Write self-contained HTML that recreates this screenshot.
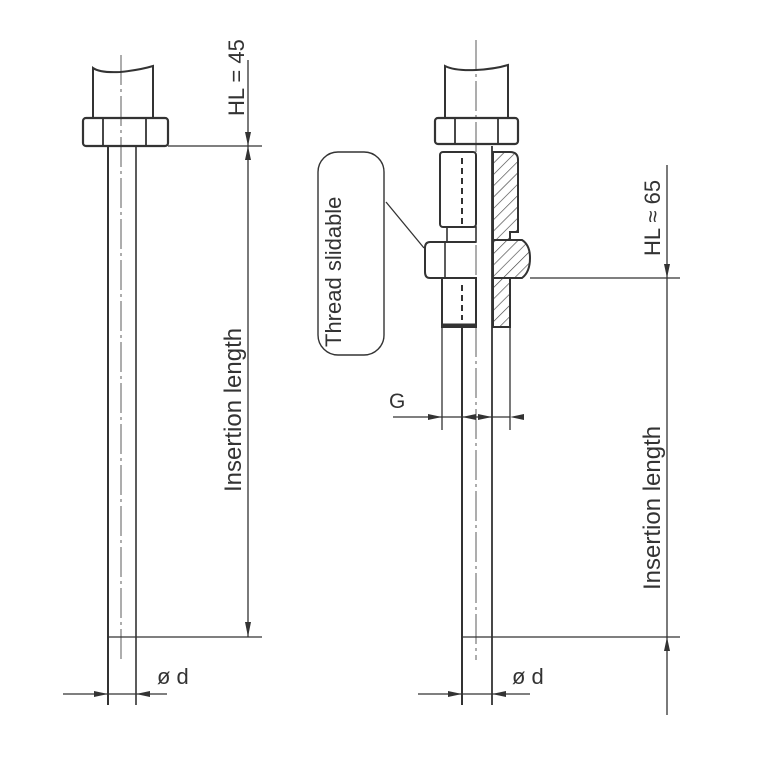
<!DOCTYPE html>
<html><head><meta charset="utf-8"><style>
html,body{margin:0;padding:0;background:#fff;}
svg{display:block;}
text{font-family:"Liberation Sans",sans-serif;fill:#333;}
</style></head><body>
<svg width="767" height="767" viewBox="0 0 767 767" xmlns="http://www.w3.org/2000/svg">
<defs>
<pattern id="h" width="8" height="8" patternUnits="userSpaceOnUse" patternTransform="rotate(45)">
<line x1="0" y1="0" x2="0" y2="8" stroke="#444" stroke-width="1.3"/>
</pattern>
</defs>
<g stroke="#333" fill="none" stroke-width="1.3">
<path d="M93 118 V68 Q100 73 120 72 Q140 70 153 66 V118" stroke-width="2"/>
<rect x="83" y="118" width="85" height="28" rx="3" stroke-width="2.2"/>
<line x1="103" y1="118" x2="103" y2="146" stroke-width="1.8"/>
<line x1="146" y1="118" x2="146" y2="146" stroke-width="1.8"/>
<line x1="108" y1="146" x2="108" y2="705" stroke-width="2"/>
<line x1="136" y1="146" x2="136" y2="705" stroke-width="1.6"/>
<line x1="121" y1="55" x2="121" y2="660" stroke-width="0.8" stroke-dasharray="30 4 3 4"/>
<line x1="168" y1="146" x2="262" y2="146"/>
<line x1="108" y1="637" x2="262" y2="637"/>
<line x1="248" y1="60" x2="248" y2="637"/>
<line x1="63" y1="694" x2="167" y2="694"/>
<path d="M445 118 V66 Q455 71 476 70 Q495 69 508 65 V118" stroke-width="2"/>
<rect x="435" y="118" width="83" height="26" rx="3" stroke-width="2.2"/>
<line x1="455" y1="118" x2="455" y2="144" stroke-width="1.8"/>
<line x1="498" y1="118" x2="498" y2="144" stroke-width="1.8"/>
<rect x="440" y="152" width="36" height="75" rx="3" stroke-width="2"/>
<line x1="462" y1="158" x2="462" y2="225" stroke-dasharray="6 4" stroke-width="2"/>
<rect x="447" y="227" width="29" height="15" stroke-width="1.6"/>
<path d="M476 242 H430 Q425 242 425 248 V272 Q425 278 430 278 H476" stroke-width="2"/>
<line x1="445" y1="242" x2="445" y2="278" stroke-width="1.6"/>
<rect x="442" y="278" width="34" height="49" stroke-width="2"/>
<line x1="462" y1="285" x2="462" y2="320" stroke-dasharray="6 4" stroke-width="2"/>
<line x1="442" y1="325" x2="476" y2="325" stroke-width="3"/>
<path d="M493 152 H510 Q518 152 518 160 V232 H510 V240 H493 Z" fill="url(#h)" stroke-width="2"/>
<path d="M493 240 H522 Q530 245 530 258 Q530 272 522 278 H493 Z" fill="url(#h)" stroke-width="2"/>
<path d="M493 278 H510 V327 H493 Z" fill="url(#h)" stroke-width="2"/>
<line x1="442" y1="327" x2="442" y2="430"/>
<line x1="510" y1="327" x2="510" y2="430"/>
<line x1="462" y1="327" x2="462" y2="705" stroke-width="2"/>
<line x1="492" y1="146" x2="492" y2="705" stroke-width="1.8"/>
<line x1="476" y1="40" x2="476" y2="660" stroke-width="0.8" stroke-dasharray="30 4 3 4"/>
<line x1="393" y1="417" x2="510" y2="417"/>
<line x1="530" y1="278" x2="680" y2="278"/>
<line x1="462" y1="637" x2="680" y2="637"/>
<line x1="667" y1="165" x2="667" y2="715"/>
<line x1="418" y1="694" x2="530" y2="694"/>
<rect x="318" y="152" width="66" height="203" rx="20" stroke-width="1.4"/>
<line x1="386" y1="202" x2="424" y2="248"/>
</g>
<g fill="#333">
<polygon points="245,132 251,132 248,146"/>
<polygon points="245,160 251,160 248,146"/>
<polygon points="245,622 251,622 248,637"/>
<polygon points="94,691 94,697 108,694"/>
<polygon points="150,691 150,697 136,694"/>
<polygon points="664,264 670,264 667,278"/>
<polygon points="664,651 670,651 667,637"/>
<polygon points="448,691 448,697 462,694"/>
<polygon points="506,691 506,697 492,694"/>
<polygon points="428,414 428,420 442,417"/>
<polygon points="476,414 476,420 462,417"/>
<polygon points="478,414 478,420 492,417"/>
<polygon points="524,414 524,420 510,417"/>
</g>
<text transform="translate(244,116) rotate(-90)" font-size="22">HL = 45</text>
<text transform="translate(241,492) rotate(-90)" font-size="24">Insertion length</text>
<text transform="translate(341,347) rotate(-90)" font-size="22">Thread slidable</text>
<text transform="translate(660,256) rotate(-90)" font-size="22">HL ≈ 65</text>
<text transform="translate(660,590) rotate(-90)" font-size="24">Insertion length</text>
<text x="389" y="408" font-size="21">G</text>
<text x="157" y="684" font-size="22">ø d</text>
<text x="512" y="684" font-size="22">ø d</text>
</svg>
</body></html>
